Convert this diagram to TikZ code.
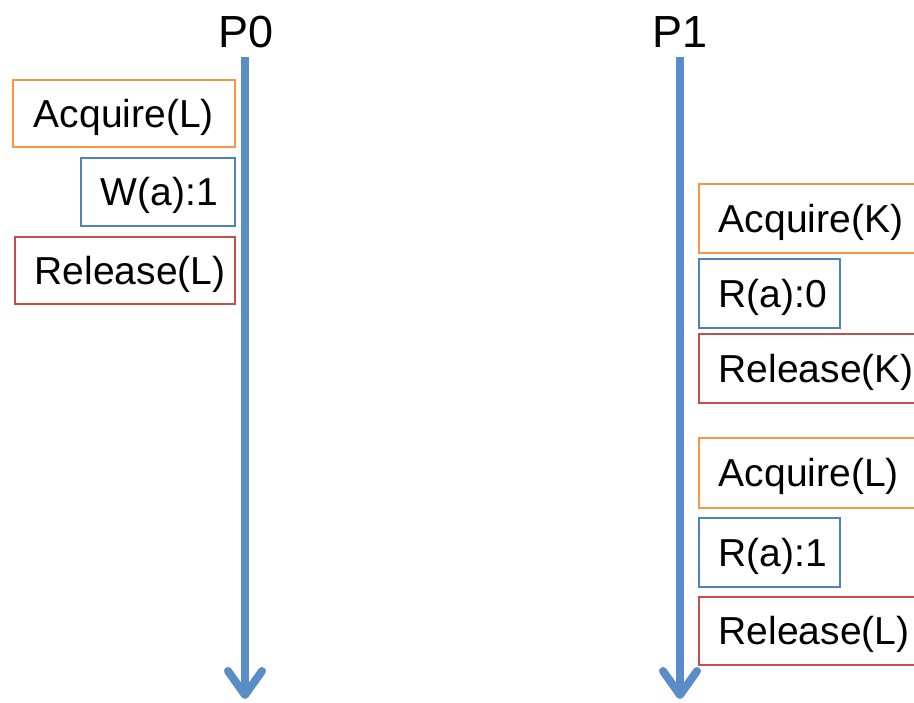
\documentclass[tikz,border=0pt]{standalone}
\usepackage{fontspec}
\setmainfont{Liberation Sans}
\usetikzlibrary{arrows.meta}
\definecolor{lockorange}{HTML}{F79646}
\definecolor{accblue}{HTML}{4F81BD}
\definecolor{relred}{HTML}{C0504D}
\definecolor{timeline}{HTML}{5A8DC8}
\begin{document}
\begin{tikzpicture}[x=1pt,y=-1pt,
  op/.style={draw, line width=1.6pt, inner ysep=0pt, inner xsep=20pt,
    anchor=north west, text height=28pt, text depth=0pt,
    font=\fontsize{39}{46}\selectfont},
  lft/.style={op, align=center},
  rgt/.style={op, align=left},
  acq/.style={draw=lockorange},
  acc/.style={draw=accblue},
  rel/.style={draw=relred},
  proc/.style={font=\fontsize{45}{52}\selectfont, inner sep=0pt},
  timearrow/.style={draw=timeline, line width=8pt,
    -{Straight Barb[length=24pt,width=34pt,round]}}]
\clip (0,0) rectangle (914,703);
\fill[white] (0,0) rectangle (914,703);

% process P0
\node[proc] (p0) at (246,32) {P0};
\coordinate (p0top) at (245,57);
\coordinate (p0end) at (245,699);
\draw[timearrow] (p0top) -- (p0end);

\node[lft, acq, text width=182pt, minimum height=67pt] (acqL0) at (12,79) {Acquire(L)};
\node[lft, acc, text width=114pt, minimum height=68pt] (wa) at (80,157) {W(a):1};
\node[lft, rel, text width=180pt, minimum height=67pt] (relL0) at (14,236) {Release(L)};

% process P1
\node[proc] (p1) at (680,32) {P1};
\coordinate (p1top) at (680,57);
\coordinate (p1end) at (680,699);
\draw[timearrow] (p1top) -- (p1end);

\node[rgt, acq, text width=200pt, minimum height=69pt] (acqK) at (698,183) {Acquire(K)};
\node[rgt, acc, text width=101pt, minimum height=69pt] (ra0) at (698,258) {R(a):0};
\node[rgt, rel, text width=200pt, minimum height=69pt] (relK) at (698,333) {Release(K)};

\node[rgt, acq, text width=200pt, minimum height=70pt] (acqL1) at (698,437) {Acquire(L)};
\node[rgt, acc, text width=101pt, minimum height=69pt] (ra1) at (698,517) {R(a):1};
\node[rgt, rel, text width=200pt, minimum height=68pt] (relL1) at (698,596) {Release(L)};
\end{tikzpicture}
\end{document}
